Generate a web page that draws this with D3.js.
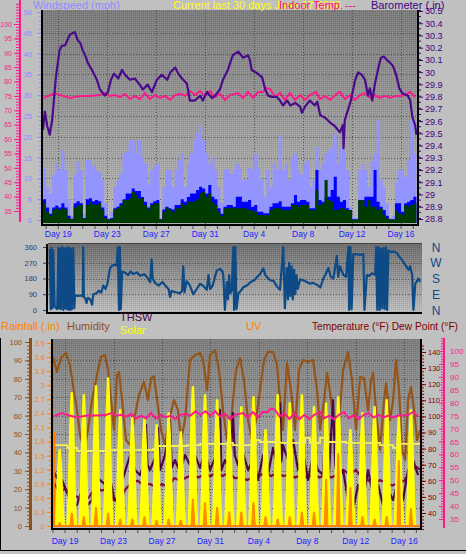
<!DOCTYPE html>
<html><head><meta charset="utf-8">
<script src="https://cdn.jsdelivr.net/npm/d3@7"></script>
<style>
html,body{margin:0;padding:0;background:#c0c0c0;}
svg{display:block;font-family:"Liberation Sans",Arial,sans-serif;}
</style></head><body>
<svg id="c" width="466" height="554"></svg>
<script>
// ---------- DATA (days counted from Day 19 = 0) ----------
const dayTickOffsets = [0,4,8,12,16,20,24,28];
const dayTickLabels = ["Day 19","Day 23","Day 27","Day 31","Day 4","Day 8","Day 12","Day 16"];
const speedTicks = [0,5,10,15,20,25,30,35,40,45,50];
const pinkTicks = [35,40,45,50,55,60,65,70,75,80,85,90,95,100];
const baroTickValues = [28.8,28.9,29.0,29.1,29.2,29.3,29.4,29.5,29.6,29.7,29.8,29.9,30.0,30.1,30.2,30.3,30.4,30.5];
const baroTickLabels = ["28.8","28.9","29","29.1","29.2","29.3","29.4","29.5","29.6","29.7","29.8","29.9","30","30.1","30.2","30.3","30.4","30.5"];
const dirTicks = [0,90,180,270,360];
const dirLetterValues = [360,270,180,90,0];
const dirLetters = ["N","W","S","E","N"];
const humTicks = [0,10,20,30,40,50,60,70,80,90,100];
const rainTickValues = [0,0.3,0.6,0.9,1.2,1.5,1.8,2.1,2.4,2.7,3.0,3.3,3.6,3.9];
const rainTickLabels = ["0","0.3","0.6","0.9","1.2","1.5","1.8","2.1","2.4","2.7","3","3.3","3.6","3.9"];
const tempTicks = [40,50,60,70,80,90,100,110,120,130,140];

// wind speed (mph), one sample every quarter day from day -1.25
const windStart = -1.25, windStep = 0.25;
const windHigh = [12.4,8,6.4,11,13.6,12,16.8,12,5,1,11,14,12,1.5,14.4,14.4,13,12,11.5,9.6,4,0.5,2,8,9.6,11.2,16,16.5,19.2,19.2,16,19.2,15,13.6,8.5,12,13,13.6,0.5,8,12,12,8,12,14.4,16,8,13.6,16,19.2,20.8,22.8,19.2,16,13.6,15,12,8,4,12,12.4,11.2,12,
13.6,12.4,9.6,9.6,12.5,12,16,12.4,9.6,5.6,12,8,13.6,12,20.4,12,13.6,9.6,15,16,12,11,13.6,14.4,8,9.6,17.6,12,13.6,16,16.8,17.6,20.8,13.6,17.6,16.8,12,3.2,0.8,0.5,12,13.6,12,8,14,16,24,9.6,8,4,0.5,1,9,12,12,10.4,14.4,24,16];
const windMid = [5,3,1.5,3,3.5,3,4,3,1,0.3,4,4.5,4,0.5,5,5.2,4.5,4.8,4.5,3,1,0.2,0.5,2.8,3.2,4,5,6.4,6.4,7.6,7,7,5.5,4.4,3,4,4.5,4.8,0.2,2.5,3.2,2.8,2.5,3.6,3.6,5,4.4,5.5,6.4,6.4,7.2,8,7.6,6.4,8.4,5.6,5,2.8,1.5,3.2,3.6,3.6,3.2,
5.6,5.6,4.4,4.4,4.8,3.2,3.6,2,2,1.6,1.6,3.2,4,4,4.5,3.2,3.2,3.2,4,6,4.4,4.8,4.8,4.4,2.8,2.8,12,4.8,4.4,5.6,5.6,7.2,10.4,5.6,4.4,4.8,2.8,2,0.2,0.2,4.8,4.8,5.6,5.6,5.6,12,4.4,3.2,2.4,1,0.2,0.2,4,4,2,4,4.4,4.8,5.6];
const windAvg = [4,2,1,2.5,2.8,2.5,2.8,2.5,0.5,0.2,3,3.6,3.6,0.3,3.6,4.4,3.8,3.6,4,2.5,0.5,0.1,0.3,2.5,2.8,3.6,4.8,4.8,5.2,6.8,6,5.2,5.2,3.6,2.5,3.6,4,4,0.1,2,3,2.5,2,2.8,2.8,4,3.6,4.4,4.4,4.4,5,6.4,6.8,5.5,6.4,4.4,3.6,2,1,2.8,2.8,3,2.8,
2.8,2.8,2.8,2.8,2.4,2.4,2,1.2,1.2,1.2,1.2,2.4,2.8,2.8,2.8,2.4,2.4,2.4,3.6,3.6,3.2,3.6,3.6,3.6,2.4,2.4,7.2,3.6,4,9.6,4.8,4.4,2.4,2.4,2.8,2.8,2.4,2.4,0.1,0.1,4.8,4.8,3.2,4.8,3.2,3.2,2.4,2.8,1.2,0.5,0.1,0.1,2.4,1.6,1.2,3.6,3.2,3.6,4];

// barometer (in) [day, value]
const baroSeries = [[-1.25,29.52],[-1.1,29.67],[-0.9,29.55],[-0.7,29.48],[-0.5,29.6],[-0.2,29.95],[0.1,30.17],[0.3,30.21],[0.55,30.21],[0.95,30.30],[1.35,30.32],[1.6,30.25],[1.8,30.23],[2.0,30.17],[2.2,30.13],[2.4,30.07],[2.75,30.01],[3.15,29.93],[3.4,29.85],[3.8,29.80],[4.05,29.83],[4.3,29.93],[4.55,29.98],[4.9,29.94],[5.2,30.01],[5.45,29.97],[5.85,29.93],[6.25,29.94],[6.65,29.89],[6.9,29.85],[7.3,29.89],[7.65,29.83],[8.05,29.93],[8.45,29.97],[8.9,29.93],[9.15,29.99],[9.55,30.03],[9.8,29.98],[10.1,29.94],[10.5,29.90],[10.75,29.76],[11.15,29.76],[11.6,29.80],[11.8,29.76],[12.15,29.83],[12.55,29.78],[12.8,29.80],[13.2,29.85],[13.45,29.93],[13.85,30.01],[14.25,30.13],[14.7,30.16],[15.1,30.11],[15.5,30.13],[15.65,30.09],[15.8,30.01],[16.3,29.98],[16.65,29.95],[16.9,29.85],[17.15,29.80],[17.45,29.79],[17.85,29.79],[18.1,29.76],[18.35,29.72],[18.7,29.76],[18.95,29.72],[19.35,29.74],[19.75,29.71],[19.9,29.66],[20.15,29.71],[20.55,29.76],[20.95,29.72],[21.15,29.75],[21.4,29.64],[21.8,29.62],[22.2,29.58],[22.6,29.55],[23.0,29.50],[23.25,29.56],[23.3,29.37],[23.4,29.60],[23.9,29.76],[24.25,29.93],[24.5,29.99],[24.8,29.97],[25.05,29.93],[25.3,29.80],[25.45,29.86],[25.65,29.76],[25.85,29.89],[26.1,30.01],[26.35,30.11],[26.6,30.12],[26.85,30.09],[27.1,30.07],[27.35,30.04],[27.6,29.97],[27.85,29.86],[28.1,29.82],[28.35,29.81],[28.55,29.80],[28.75,29.76],[28.9,29.64],[29.0,29.60],[29.15,29.56],[29.25,29.48]];

// indoor temperature (°F) [day, value]
const indoorSeries = [[-1.2,74.3],[-0.27,76.0],[0.14,75.3],[0.96,74.3],[1.77,75.0],[2.59,75.0],[3.41,75.3],[3.82,76.0],[4.22,75.0],[4.63,75.3],[5.04,74.6],[5.45,75.7],[5.86,73.9],[6.27,75.0],[6.67,73.9],[7.08,76.0],[7.49,73.9],[7.90,75.3],[8.31,74.3],[8.72,75.0],[9.13,73.6],[9.53,75.3],[9.94,75.7],[10.35,75.0],[10.76,76.7],[11.17,75.3],[11.58,76.7],[11.99,75.0],[12.39,76.7],[12.80,74.6],[13.21,75.7],[13.62,73.6],[14.03,75.3],[14.68,76.0],[15.09,74.3],[15.50,76.4],[15.91,74.3],[16.31,76.4],[16.72,76.4],[16.97,77.75],[17.30,77.4],[17.70,74.6],[18.11,76.0],[18.52,73.6],[18.93,76.0],[19.34,73.6],[19.75,75.3],[20.16,73.6],[20.56,75.3],[21.05,76.4],[21.38,73.9],[21.79,75.0],[22.20,73.6],[22.61,75.3],[23.01,76.4],[23.42,73.9],[23.83,75.3],[24.24,73.6],[24.65,75.3],[25.06,76.0],[25.47,74.3],[25.87,75.3],[26.28,74.3],[26.69,75.0],[27.10,74.3],[27.51,75.0],[27.92,75.0],[28.33,75.3],[28.73,76.4],[29.14,74.6]];

// wind direction (degrees) [day, value]
const dirSeries = [[-1.10,350],[-1.02,5],[-0.95,355],[-0.88,10],[-0.82,340],[-0.7,20],[-0.5,5],[-0.41,355],[-0.35,10],[-0.27,350],[-0.2,5],[-0.13,360],[0.0,0],[0.07,355],[0.14,10],[0.21,350],[0.28,5],[0.35,358],[0.42,3],[0.5,355],[0.55,0],[0.62,350],[0.7,5],[0.82,355],[0.9,10],[0.96,86],[1.2,80],[1.5,84],[1.6,78],[1.63,360],[1.68,76],[1.8,66],[1.9,40],[2.0,70],[2.2,60],[2.35,30],[2.45,90],[2.7,95],[2.9,110],[3.1,100],[3.27,140],[3.45,120],[3.6,150],[3.82,240],[4.0,255],[4.2,258],[4.36,255],[4.45,360],[4.55,0],[4.62,360],[4.7,5],[4.8,220],[5.0,215],[5.3,200],[5.5,220],[5.72,205],[6.0,215],[6.3,195],[6.6,205],[6.81,190],[7.0,170],[7.1,160],[7.21,290],[7.3,180],[7.49,155],[7.8,140],[8.1,160],[8.45,130],[8.6,120],[8.72,75],[8.85,110],[8.99,105],[9.3,100],[9.53,95],[9.7,110],[9.8,250],[9.9,100],[10.08,165],[10.3,145],[10.62,90],[10.9,120],[11.17,150],[11.4,140],[11.72,115],[11.85,200],[11.99,120],[12.2,140],[12.53,225],[12.8,235],[13.0,220],[13.07,200],[13.2,0],[13.35,160],[13.45,60],[13.55,200],[13.62,95],[13.75,110],[13.89,360],[13.95,0],[14.05,360],[14.15,5],[14.3,95],[14.5,110],[14.71,130],[15.0,140],[15.3,160],[15.6,170],[15.85,190],[16.07,205],[16.34,238],[16.5,200],[16.62,190],[16.9,170],[17.2,165],[17.44,135],[17.7,115],[17.97,360],[18.1,10],[18.25,240],[18.35,60],[18.45,270],[18.55,80],[18.65,250],[18.75,60],[18.85,230],[18.95,90],[19.05,200],[19.15,120],[19.34,175],[19.6,170],[19.9,160],[20.15,150],[20.4,155],[20.7,145],[21.0,130],[21.24,180],[21.4,200],[21.65,240],[21.85,190],[22.06,180],[22.34,310],[22.45,190],[22.6,250],[22.88,200],[23.1,190],[23.29,360],[23.35,0],[23.45,360],[23.55,5],[23.69,320],[24.0,318],[24.3,315],[24.51,320],[24.6,0],[24.79,200],[25.0,195],[25.2,210],[25.47,200],[25.55,360],[25.65,0],[25.75,360],[25.85,0],[25.95,350],[26.05,10],[26.15,355],[26.25,5],[26.35,360],[26.45,0],[26.55,340],[26.8,330],[27.0,335],[27.24,325],[27.5,300],[27.78,275],[28.0,250],[28.2,230],[28.33,250],[28.5,200],[28.6,0],[28.75,150],[29.0,180],[29.14,160]];

// outside humidity (%) [day, value]
const humSeries = [[-1.0,91.8],[-0.67,83.7],[-0.34,91.3],[0.07,94.0],[0.40,87.5],[0.65,76.6],[0.98,63.0],[1.23,49.5],[1.56,41.3],[1.89,52.2],[2.22,68.5],[2.63,82.1],[2.96,91.8],[3.29,92.9],[3.54,84.8],[3.79,68.5],[4.04,52.2],[4.28,82.1],[4.45,83.7],[4.70,68.5],[5.03,46.7],[5.36,44.0],[5.69,57.6],[6.10,71.2],[6.51,78.3],[6.84,68.5],[7.09,80.4],[7.34,81.5],[7.59,68.5],[7.92,52.2],[8.25,44.0],[8.58,57.6],[8.99,68.5],[9.32,63.0],[9.57,46.7],[9.90,57.6],[10.31,90.2],[10.73,92.9],[11.14,94.0],[11.39,90.2],[11.72,73.9],[11.96,92.9],[12.38,95.7],[12.71,84.8],[13.04,63.0],[13.37,46.7],[13.70,57.6],[14.11,84.8],[14.44,91.3],[14.77,79.3],[15.10,57.6],[15.43,46.7],[15.76,57.6],[16.09,73.9],[16.42,90.2],[16.75,94.6],[17.17,94.6],[17.50,87.5],[17.74,68.5],[17.99,52.2],[18.32,88.6],[18.65,73.9],[18.98,52.2],[19.31,84.8],[19.64,90.2],[20.06,89.1],[20.47,90.2],[20.80,73.9],[21.05,52.2],[21.38,68.5],[21.63,83.2],[21.96,68.5],[22.29,46.7],[22.62,57.6],[22.95,84.8],[23.36,94.6],[23.69,79.3],[24.02,52.2],[24.35,81.0],[24.68,80.4],[25.01,63.0],[25.26,79.3],[25.42,83.2],[25.67,63.0],[26.00,41.3],[26.33,68.5],[26.50,77.7],[26.83,57.6],[27.08,68.5],[27.32,90.2],[27.57,73.9],[27.82,41.3],[28.07,35.9],[28.31,68.5],[28.56,75.5],[28.81,63.0],[29.06,46.7],[29.31,52.2]];

// THSW index (°F) [day, value]
const thswSeries = [[-1.0,66.7],[-0.67,61.7],[-0.26,60.5],[0.07,54.3],[0.4,48.1],[0.65,43.1],[0.98,45.0],[1.23,51.2],[1.56,54.3],[1.89,45.0],[2.22,48.1],[2.47,57.4],[2.72,61.7],[3.05,59.3],[3.38,57.4],[3.71,61.7],[4.04,49.3],[4.37,46.8],[4.7,59.3],[5.11,69.8],[5.44,77.3],[5.77,66.7],[6.18,63.6],[6.6,71.7],[6.68,94.7],[6.8,70.0],[7.01,66.7],[7.42,74.2],[7.67,92.8],[7.84,66.7],[8.25,76.0],[8.66,97.8],[8.8,68.0],[9.07,72.9],[9.49,65.5],[9.9,76.0],[10.31,69.8],[10.73,76.0],[11.14,68.0],[11.55,77.9],[11.96,66.7],[12.38,74.2],[12.79,104.0],[12.9,66.7],[13.2,72.9],[13.62,66.7],[13.86,102.1],[14.0,76.0],[14.28,69.8],[14.69,77.3],[15.1,66.7],[15.52,72.9],[15.93,60.5],[16.34,76.0],[16.75,63.6],[17.17,80.4],[17.58,66.7],[17.75,108.3],[17.85,72.0],[17.99,82.2],[18.41,72.9],[18.82,85.3],[19.23,66.7],[19.64,77.9],[20.06,60.5],[20.47,76.0],[20.88,66.7],[21.3,63.6],[21.54,108.3],[21.71,54.3],[22.12,110.2],[22.3,69.8],[22.53,60.5],[22.95,66.7],[23.36,48.1],[23.77,41.9],[24.19,57.4],[24.6,48.1],[25.01,66.7],[25.42,51.2],[25.84,57.4],[26.25,45.0],[26.66,54.3],[27.08,48.1],[27.49,60.5],[27.9,48.1],[28.31,66.7],[28.73,72.9],[29.14,63.6]];

// outside temperature (°F) [day, value]
const tempSeries = [[-1.0,60],[-0.5,53],[0.0,55],[0.5,52],[1.0,50],[1.5,46],[2.0,50],[2.5,56],[3.0,54],[3.5,55],[4.0,48],[4.5,47],[5.0,55],[5.5,58.6],[6.0,60],[6.5,57],[7.0,58],[7.5,56],[8.0,58],[8.5,56],[9.0,61.7],[9.5,60],[10.0,62],[10.5,63.6],[11.0,62],[11.5,64],[12.0,63],[12.5,64.8],[13.0,63],[13.5,65],[14.0,61.7],[14.5,62],[15.0,60.5],[15.5,62],[16.0,63],[16.5,64.8],[17.0,63],[17.5,64.8],[18.0,63],[18.5,63.6],[19.0,62],[19.5,63.6],[20.0,62],[20.5,64],[21.0,62],[21.5,63.6],[22.0,62],[22.5,64],[23.0,66.7],[23.5,64],[24.0,66.7],[24.5,62],[25.0,60.5],[25.5,58],[26.0,60.5],[26.5,58.6],[27.0,57],[27.5,58.6],[28.0,60],[28.5,66],[29.0,68.6],[29.3,67]];

// yellow stepped line (°F) [day, value]
const yellowSeries = [[-0.83,82.2],[0.16,80.4],[0.98,78.5],[2.88,78.5],[3.71,79.1],[5.61,79.1],[7.26,79.8],[7.59,81.6],[10.07,82.2],[11.14,82.9],[13.62,83.5],[13.86,82.2],[15.52,82.2],[15.76,85.3],[16.09,84.1],[17.41,84.1],[17.74,83.5],[19.64,83.5],[19.81,86.6],[20.22,83.5],[21.05,86.6],[21.46,84.1],[22.95,84.1],[23.2,83.5],[25.67,83.5],[26.0,82.2],[26.83,82.2],[27.08,80.4],[27.4,82.9],[28.97,82.9],[29.3,82.9]];

// solar radiation daily peaks (W/m²) and UV daily peaks, first entry = day -1
const dailyFirstDay = -1;
const solarPeaks = [406,711,700,749,791,620,578,572,540,604,503,743,700,674,567,636,690,513,700,658,700,636,658,690,513,604,636,674,583,620];
const uvPeaks = [0.3,1.1,0.8,1.6,1.1,0.6,0.6,0.8,0.5,0.6,0.5,2.3,2.0,1.6,1.2,1.2,2.0,0.8,0.6,0.8,1.2,1.2,4.0,6.2,3.3,0.8,0.6,0.8,5.6,1.5];
// rainfall (in)
const rainDays = [-0.95];
const rainValues = [2.0];

// ---------- SETUP ----------
const FONT = "Liberation Sans, Arial, sans-serif";
const PINK = "#ff1a8c";
const svg = d3.select("#c");
const defs = svg.append("defs");
function grad(id,c0,c1){const g=defs.append("linearGradient").attr("id",id).attr("x1",0).attr("y1",0).attr("x2",0).attr("y2",1);g.append("stop").attr("offset","0%").attr("stop-color",c0);g.append("stop").attr("offset","100%").attr("stop-color",c1);}
grad("gTop","#7a7a7a","#b8b8b8");
grad("gMid","#6c6c6c","#bcbcbc");
grad("gBot","#7c7c7c","#bebebe");
const pat = defs.append("pattern").attr("id","dith").attr("width",2).attr("height",2).attr("patternUnits","userSpaceOnUse");
pat.append("rect").attr("x",0).attr("y",0).attr("width",1).attr("height",1).attr("fill","#fff").attr("fill-opacity",0.12);
pat.append("rect").attr("x",1).attr("y",1).attr("width",1).attr("height",1).attr("fill","#000").attr("fill-opacity",0.07);
function clip(id,P){defs.append("clipPath").attr("id",id).append("rect").attr("x",P.x).attr("y",P.y).attr("width",P.w).attr("height",P.h);}

const P1={x:43,y:10,w:374,h:214};
const P2={x:48,y:244,w:374,h:68};
const P3={x:53,y:339,w:367,h:189};
clip("c1",P1);clip("c2",P2);clip("c3",P3);

const xTop=d3.scaleLinear().domain([-1.25,29.3]).range([43,417]);
const xMid=d3.scaleLinear().domain([-1.25,29.3]).range([48,422]);
const xBot=d3.scaleLinear().domain([-1.0,29.3]).range([53,420]);
const ySpeed=d3.scaleLinear().domain([0,50]).range([220,12]);
const yBaro=d3.scaleLinear().domain([28.8,30.5]).range([218,10]);
const yPinkTop=d3.scaleLinear().domain([35,100]).range([211,24]);
const yDir=d3.scaleLinear().domain([0,360]).range([310,247]);
const yHum=d3.scaleLinear().domain([0,100]).range([526,342]);
const yRain=d3.scaleLinear().domain([0,3.9]).range([526,343]);
const yTemp=d3.scaleLinear().domain([40,140]).range([513,352]);
const yPinkBot=d3.scaleLinear().domain([35,100]).range([519,351]);
const ySolar=d3.scaleLinear().domain([0,1000]).range([526,339]);
const yUV=d3.scaleLinear().domain([0,16]).range([526,339]);

function panelBg(P,g){
  svg.append("rect").attr("x",P.x).attr("y",P.y).attr("width",P.w).attr("height",P.h).attr("fill",`url(#${g})`);
  svg.append("rect").attr("x",P.x).attr("y",P.y).attr("width",P.w).attr("height",P.h).attr("fill","url(#dith)");
}
function gridH(P,ys){svg.append("g").selectAll("line").data(ys).join("line").attr("x1",P.x).attr("x2",P.x+P.w).attr("y1",d=>Math.round(d)+0.5).attr("y2",d=>Math.round(d)+0.5).attr("stroke","#3c3c3c").attr("stroke-dasharray","1,2").attr("stroke-opacity",0.75);}
function gridV(P,xs){svg.append("g").selectAll("line").data(xs).join("line").attr("y1",P.y).attr("y2",P.y+P.h).attr("x1",d=>Math.round(d)+0.5).attr("x2",d=>Math.round(d)+0.5).attr("stroke","#3c3c3c").attr("stroke-dasharray","1,2").attr("stroke-opacity",0.75);}
function styleAxis(g,color,fs,keepDomain){
  g.attr("font-family",FONT).attr("font-size",fs);
  if(!keepDomain) g.select(".domain").remove();
  g.selectAll("line").attr("stroke",color);
  g.selectAll("text").attr("fill",color);
  return g;
}
function axis(gen,tx,ty,color,fs){return styleAxis(svg.append("g").attr("transform",`translate(${tx},${ty})`).call(gen),color,fs);}

// ---------- TOP PANEL ----------
panelBg(P1,"gTop");
gridH(P1,speedTicks.filter(v=>v>0&&v<50).map(ySpeed));
gridV(P1,dayTickOffsets.map(xTop));
const gTop=svg.append("g").attr("clip-path","url(#c1)");
const windPts = arr => arr.map((v,i)=>[windStart+i*windStep,v]).concat([[windStart+arr.length*windStep,arr[arr.length-1]]]);
const windArea=d3.area().x(d=>xTop(d[0])).y0(223).y1(d=>ySpeed(d[1])).curve(d3.curveStepAfter);
gTop.append("path").attr("d",windArea(windPts(windHigh))).attr("fill","#9494ff");
gTop.append("path").attr("d",windArea(windPts(windMid))).attr("fill","#0000ff");
gTop.append("path").attr("d",windArea(windPts(windAvg))).attr("fill","#003c00");
gTop.append("path").attr("d",d3.line().x(d=>xTop(d[0])).y(d=>yPinkTop(d[1]))(indoorSeries)).attr("fill","none").attr("stroke",PINK).attr("stroke-width",2);
gTop.append("path").attr("d",d3.line().x(d=>xTop(d[0])).y(d=>yBaro(d[1]))(baroSeries)).attr("fill","none").attr("stroke","#4b0a8c").attr("stroke-width",2.2).attr("stroke-linejoin","round");
// borders
svg.append("rect").attr("x",41).attr("y",10).attr("width",2).attr("height",216).attr("fill","#000");
svg.append("rect").attr("x",41).attr("y",224).attr("width",378).attr("height",2).attr("fill","#000");
svg.append("rect").attr("x",417).attr("y",10).attr("width",2).attr("height",216).attr("fill","#000");
// day ticks + labels
svg.append("g").selectAll("line").data(d3.range(-1,30)).join("line").attr("x1",d=>xTop(d)).attr("x2",d=>xTop(d)).attr("y1",226).attr("y2",229).attr("stroke","#505050");
svg.append("g").selectAll("text").data(dayTickOffsets).join("text").attr("x",d=>xTop(d)).attr("y",237).attr("text-anchor","middle").attr("font-family",FONT).attr("font-size",8.5).attr("fill","#2222ff").text((d,i)=>dayTickLabels[i]);
// left pink axis
svg.append("rect").attr("x",19).attr("y",0).attr("width",2).attr("height",222).attr("fill",PINK);
axis(d3.axisLeft(yPinkTop).tickValues(d3.range(35,108,1)).tickSize(3).tickFormat(""),19,0,PINK,7);
axis(d3.axisLeft(yPinkTop).tickValues(pinkTicks).tickSize(5).tickPadding(2).tickFormat(d=>d),19,0,PINK,7);
// windspeed axis
axis(d3.axisLeft(ySpeed).tickValues(d3.range(0,51,1)).tickSize(2).tickFormat(""),41,0,"#8c8cff",7);
axis(d3.axisLeft(ySpeed).tickValues(speedTicks).tickSize(4).tickPadding(5).tickFormat(d=>d),41,0,"#8c8cff",7.5);
// barometer axis
axis(d3.axisRight(yBaro).tickValues(d3.range(28.8,30.51,0.05)).tickSize(2).tickFormat(""),419,0,"#400080",7);
axis(d3.axisRight(yBaro).tickValues(baroTickValues).tickSize(4).tickPadding(2).tickFormat((d,i)=>baroTickLabels[i]),419,1,"#400080",9);
// titles
function txt(s,x,y,c,fs,len){const t=svg.append("text").attr("x",x).attr("y",y).attr("font-family",FONT).attr("font-size",fs||11).attr("fill",c).text(s);if(len)t.attr("textLength",len).attr("lengthAdjust","spacingAndGlyphs");return t;}
txt("Windspeed (mph)",33,9,"#8c8cff");
txt("Current last 30 days June 17 2006",173,9,"#ffff00");
txt("Indoor Temp.",279,9,"#ff0a80");
txt("---",345,9,"#ff0a80");
txt("Barometer (.in)",371,8.5,"#400080");

// ---------- MIDDLE PANEL ----------
panelBg(P2,"gMid");
gridH(P2,[90,180,270].map(yDir));
svg.append("rect").attr("x",48).attr("y",243).attr("width",374).attr("height",1).attr("fill","#404040");
svg.append("g").attr("clip-path","url(#c2)").append("path").attr("d",d3.line().x(d=>xMid(d[0])).y(d=>yDir(d[1]))(dirSeries)).attr("fill","none").attr("stroke","#0e4a86").attr("stroke-width",2.2).attr("stroke-linejoin","round");
svg.append("rect").attr("x",46).attr("y",244).attr("width",2).attr("height",70).attr("fill","#000");
svg.append("rect").attr("x",46).attr("y",312).attr("width",376).attr("height",2).attr("fill","#000");
axis(d3.axisLeft(yDir).tickValues(dirTicks).tickSize(3).tickPadding(6).tickFormat(d=>d),46,0,"#2a3f6f",7.5);
svg.append("g").selectAll("text").data(dirLetterValues).join("text").attr("x",436).attr("y",d=>yDir(d)+4.5).attr("text-anchor","middle").attr("font-family",FONT).attr("font-size",12).attr("fill","#0e4a86").text((d,i)=>dirLetters[i]);

// ---------- BOTTOM PANEL ----------
panelBg(P3,"gBot");
gridH(P3,humTicks.filter(v=>v>0&&v<100).map(yHum));
gridV(P3,dayTickOffsets.map(xBot));
const gB=svg.append("g").attr("clip-path","url(#c3)");
gB.append("path").attr("d",d3.line().x(d=>xBot(d[0])).y(d=>yHum(d[1]))(humSeries)).attr("fill","none").attr("stroke","#955418").attr("stroke-width",2.2).attr("stroke-linejoin","round");
gB.append("path").attr("d",d3.line().x(d=>xBot(d[0])).y(d=>yTemp(d[1]))(tempSeries)).attr("fill","none").attr("stroke","#7c0c3e").attr("stroke-width",2.2);
gB.append("path").attr("d",d3.line().x(d=>xBot(d[0])).y(d=>yTemp(d[1]))(thswSeries)).attr("fill","none").attr("stroke","#4a0848").attr("stroke-width",2.2).attr("stroke-linejoin","round");
const hump=d3.line().x(d=>xBot(d[0])).y(d=>d[1]);
solarPeaks.forEach((p,i)=>{
  const t=dailyFirstDay+i+0.55;
  const pts=[[t-0.38,ySolar(0)],[t-0.28,ySolar(p*0.25)],[t-0.15,ySolar(p*0.75)],[t-0.04,ySolar(p)],[t+0.04,ySolar(p)],[t+0.15,ySolar(p*0.75)],[t+0.28,ySolar(p*0.25)],[t+0.38,ySolar(0)]];
  gB.append("path").attr("d",hump(pts)).attr("fill","#ffff00").attr("stroke","#ffff00").attr("stroke-width",1.5);
});
gB.append("path").attr("d",d3.line().x(d=>xBot(d[0])).y(d=>yTemp(d[1])).curve(d3.curveStepAfter)(yellowSeries)).attr("fill","none").attr("stroke","#f4f050").attr("stroke-width",1.8);
gB.append("path").attr("d",d3.line().x(d=>xBot(d[0])).y(d=>yPinkBot(d[1]))(indoorSeries)).attr("fill","none").attr("stroke",PINK).attr("stroke-width",2);
uvPeaks.forEach((p,i)=>{
  const t=dailyFirstDay+i+0.55;
  const pts=[[t-0.15,yUV(0)],[t-0.04,yUV(p)],[t+0.04,yUV(p)],[t+0.15,yUV(0)]];
  gB.append("path").attr("d",hump(pts)).attr("fill","#ff8c00").attr("stroke","#ff8c00").attr("stroke-width",1);
});
gB.selectAll("rect.rain").data(rainDays).join("rect").attr("x",d=>xBot(d)-1.5).attr("width",3).attr("y",(d,i)=>yRain(rainValues[i])).attr("height",(d,i)=>yRain(0)-yRain(rainValues[i])).attr("fill","#ff8000");
gB.append("line").attr("x1",53).attr("x2",420).attr("y1",yRain(0)).attr("y2",yRain(0)).attr("stroke","#ff8000").attr("stroke-width",2);
svg.append("rect").attr("x",51).attr("y",339).attr("width",2).attr("height",191).attr("fill","#000");
svg.append("rect").attr("x",51).attr("y",528).attr("width",371).attr("height",2).attr("fill","#000");
svg.append("rect").attr("x",420).attr("y",339).attr("width",2).attr("height",191).attr("fill","#000");
svg.append("g").selectAll("line").data(d3.range(-1,30)).join("line").attr("x1",d=>xBot(d)).attr("x2",d=>xBot(d)).attr("y1",530).attr("y2",533).attr("stroke","#505050");
svg.append("g").selectAll("text").data(dayTickOffsets).join("text").attr("x",d=>xBot(d)).attr("y",544).attr("text-anchor","middle").attr("font-family",FONT).attr("font-size",8.5).attr("fill","#2222ff").text((d,i)=>dayTickLabels[i]);
// humidity axis
svg.append("rect").attr("x",29).attr("y",338).attr("width",3).attr("height",192).attr("fill","#8c5020");
axis(d3.axisLeft(yHum).tickValues(d3.range(0,101,2)).tickSize(2).tickFormat(""),29,0,"#8c5020",7);
axis(d3.axisLeft(yHum).tickValues(humTicks).tickSize(4).tickPadding(3).tickFormat(d=>d),29,0,"#8c5020",7.5);
// rain axis
axis(d3.axisLeft(yRain).tickValues(d3.range(0,3.95,0.1)).tickSize(2).tickFormat(""),51,0,"#ff8000",7);
axis(d3.axisLeft(yRain).tickValues(rainTickValues).tickSize(4).tickPadding(2).tickFormat((d,i)=>rainTickLabels[i]),51,0,"#ff8000",7.5);
// temperature axis
axis(d3.axisRight(yTemp).tickValues(d3.range(30,146,2)).tickSize(2).tickFormat(""),422,0,"#800000",7);
axis(d3.axisRight(yTemp).tickValues(tempTicks).tickSize(4).tickPadding(2).tickFormat(d=>d),422,0,"#800000",7.5);
// pink right axis
svg.append("rect").attr("x",443).attr("y",338).attr("width",2).attr("height",190).attr("fill",PINK);
axis(d3.axisLeft(yPinkBot).tickValues(d3.range(35,106,1)).tickSize(2).tickFormat(""),443,0,PINK,7);
axis(d3.axisLeft(yPinkBot).tickValues(pinkTicks).tickSize(4).tickFormat(""),443,0,PINK,7);
axis(d3.axisRight(yPinkBot).tickValues(pinkTicks).tickSize(0).tickPadding(5).tickFormat(d=>d),445,0,PINK,8);
// legends
txt("Rainfall (.in)",1,330,"#ff8000");
txt("Humidity",67,330,"#8c5020");
txt("THSW",120,321,"#4a0848");
txt("Solar",120,334,"#ffff00");
txt("UV",246,330,"#ff8000");
txt("Temperature (°F) Dew Point (°F)",312,330,"#800000",10.5,146);
// frame
svg.append("rect").attr("x",0).attr("y",338).attr("width",1).attr("height",213).attr("fill","#000");
svg.append("rect").attr("x",0).attr("y",550).attr("width",466).attr("height",1).attr("fill","#000");
</script></body></html>
